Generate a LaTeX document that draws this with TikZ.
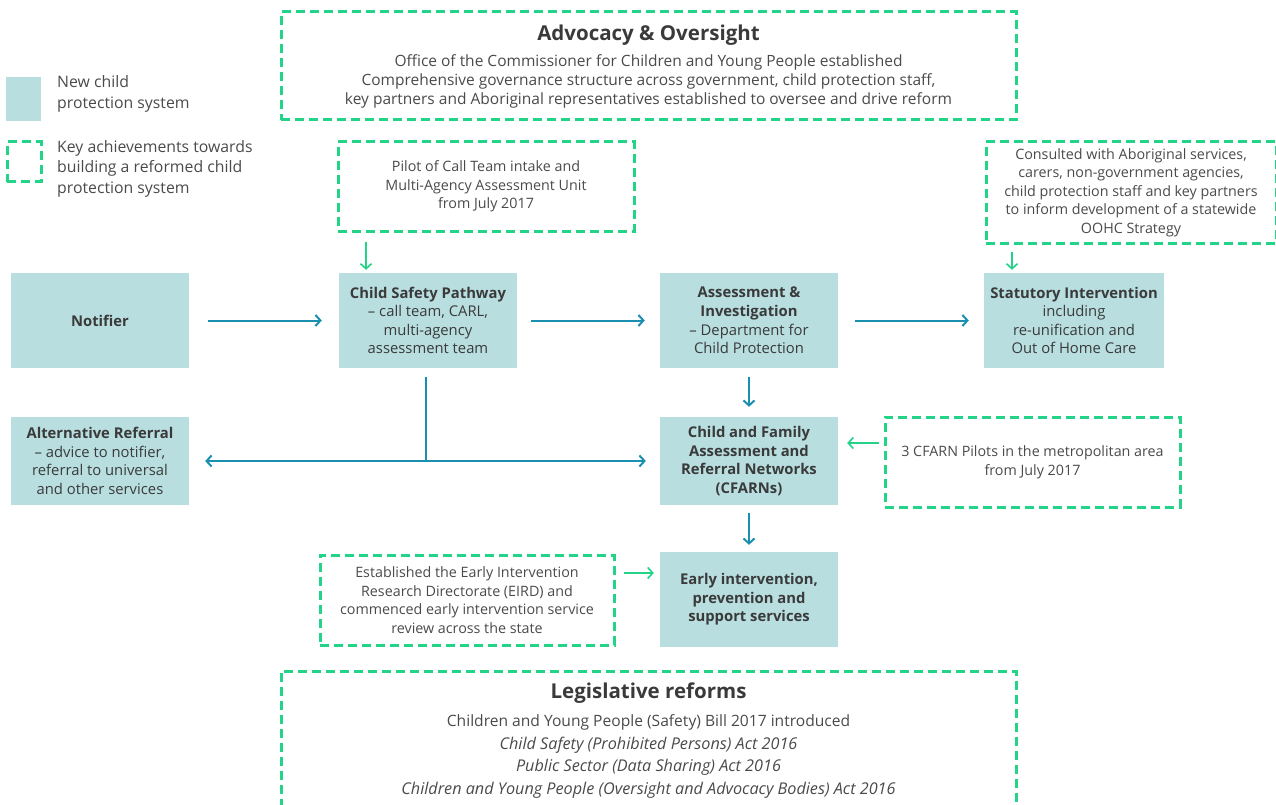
\documentclass[tikz,border=0pt]{standalone}
\usepackage{fontspec}
\setmainfont{Open Sans}
\usetikzlibrary{arrows.meta,calc}
\definecolor{sysfill}{HTML}{B8DEE0}
\definecolor{flowc}{HTML}{1A8FB0}
\definecolor{achg}{HTML}{22D388}
\definecolor{txt}{HTML}{3A3A3A}
\definecolor{txtl}{HTML}{4A4A4A}
\tikzset{
  sys/.style={rectangle, fill=sysfill, inner sep=0pt, minimum width=178pt, align=center, text=txt,
    font=\fontsize{14.8}{18.6}\selectfont},
  ach/.style={rectangle, draw=achg, line width=3pt, dash pattern=on 9pt off 5pt, inner sep=0pt,
    align=center, text=txtl, font=\fontsize{14.3}{18.6}\selectfont},
  achline/.style={draw=achg, line width=3pt, dash pattern=on 9pt off 5pt},
  flow/.style={draw=flowc, line width=2pt, -{Straight Barb[length=5pt,width=11pt,line width=2pt]}},
  flowline/.style={draw=flowc, line width=2pt},
  gflow/.style={draw=achg, line width=1.6pt, -{Straight Barb[length=5pt,width=11pt,line width=1.6pt]}},
  plain/.style={text=txt, align=center, inner sep=0pt},
}
\begin{document}
\begin{tikzpicture}[x=1pt,y=-1pt]
\useasboundingbox (0,0) rectangle (1276,805);

% legend
\node[rectangle, fill=sysfill, minimum width=35pt, minimum height=44pt, inner sep=0pt] (legsys) at (23.5,99) {};
\node[plain, anchor=west, align=left, text=txtl, font=\fontsize{15.8}{20.3}\selectfont] (legsyst) at (57,94) {New child\\protection system};
\node[ach, minimum width=34pt, minimum height=40pt] (legach) at (24,162) {};
\node[plain, anchor=west, align=left, text=txtl, font=\fontsize{15.8}{20.5}\selectfont] (legacht) at (57,168.5) {Key achievements towards\\building a reformed child\\protection system};

% top oversight box
\node[ach, minimum width=735pt, minimum height=108pt] (adv) at (648.5,66) {};
\node[plain, font=\bfseries\fontsize{20.5}{24}\selectfont] (advt) at (648.5,35) {Advocacy \& Oversight};
\node[plain, text=txtl, font=\fontsize{15.5}{19}\selectfont] (advb) at (648.5,81.5) {Office of the Commissioner for Children and Young People established\\Comprehensive governance structure across government, child protection staff,\\key partners and Aboriginal representatives established to oversee and drive reform};

% achievement boxes
\node[ach, minimum width=296pt, minimum height=89pt] (pilot) at (486,186.5) {Pilot of Call Team intake and\\Multi-Agency Assessment Unit\\from July 2017};
\node[ach, minimum width=290pt, minimum height=101pt] (consult) at (1131,192.5) {Consulted with Aboriginal services,\\carers, non-government agencies,\\child protection staff and key partners\\to inform development of a statewide\\OOHC Strategy};
\node[ach, minimum width=295pt, minimum height=90pt] (cfpilot) at (1032.5,462) {3 CFARN Pilots in the metropolitan area\\from July 2017};
\node[ach, minimum width=294pt, minimum height=90pt] (eird) at (467,600) {Established the Early Intervention\\Research Directorate (EIRD) and\\commenced early intervention service\\review across the state};

% system boxes
\node[sys, minimum height=95pt] (notifier) at (100,320.5) {\bfseries Notifier};
\node[sys, minimum height=95pt] (csp) at (428,320.5) {\bfseries Child Safety Pathway\\– call team, CARL,\\multi-agency\\assessment team};
\node[sys, minimum height=95pt] (ai) at (749,320.5) {\bfseries Assessment \&\\\bfseries Investigation\\– Department for\\Child Protection};
\node[sys, minimum height=95pt, minimum width=180pt] (si) at (1074,320.5) {\bfseries Statutory Intervention\\including\\re-unification and\\Out of Home Care};
\node[sys, minimum height=88pt] (alt) at (100,461) {\bfseries Alternative Referral\\– advice to notifier,\\referral to universal\\and other services};
\node[sys, minimum height=88pt] (cfarn) at (749,461) {\bfseries Child and Family\\\bfseries Assessment and\\\bfseries Referral Networks\\\bfseries (CFARNs)};
\node[sys, minimum height=95pt] (early) at (749,599.5) {\bfseries Early intervention,\\\bfseries prevention and\\\bfseries support services};

% legislative box (open at the bottom)
\coordinate (lbl) at (281,808);
\coordinate (lbr) at (1016,808);
\draw[achline] (lbl) -- (281,671) -- (1016,671) -- (lbr);
\node[plain, font=\bfseries\fontsize{20.5}{24}\selectfont] (legt) at (648.5,693) {Legislative reforms};
\node[plain, text=txtl, font=\fontsize{15.6}{22.7}\selectfont] (legb) at (648.5,756.5) {Children and Young People (Safety) Bill 2017 introduced\\\fontsize{16.2}{22.7}\selectfont\itshape Child Safety (Prohibited Persons) Act 2016\\\fontsize{16.2}{22.7}\selectfont\itshape Public Sector (Data Sharing) Act 2016\\\fontsize{16.2}{22.7}\selectfont\itshape Children and Young People (Oversight and Advocacy Bodies) Act 2016};

% flow connectors
\draw[flow, shorten <=19pt, shorten >=17pt] (notifier.east) -- (csp.west);
\draw[flow, shorten <=14pt, shorten >=15pt] (csp.east) -- (ai.west);
\draw[flow, shorten <=17pt, shorten >=15pt] (ai.east) -- (si.west);
\draw[flow, shorten <=9pt, shorten >=10pt] (ai.south) -- (cfarn.north);
\draw[flow, shorten <=8pt, shorten >=7pt] (cfarn.south) -- (early.north);
\coordinate (tee) at (426,461);
\coordinate (teetop) at (426,377);
\draw[flowline] (teetop) -- (tee);
\draw[flow, shorten >=16pt] (tee) -- (alt.east);
\draw[flow, shorten >=14pt] (tee) -- (cfarn.west);

% green connectors
\draw[gflow, shorten <=9pt, shorten >=3pt] (pilot.south -| 366,0) -- (csp.north -| 366,0);
\draw[gflow, shorten <=7pt, shorten >=3pt] (consult.south -| 1012,0) -- (si.north -| 1012,0);
\draw[gflow, shorten <=5pt, shorten >=9pt] (cfpilot.west |- 0,443) -- (cfarn.east |- 0,443);
\draw[gflow, shorten <=8pt, shorten >=6pt] (eird.east |- 0,573) -- (early.west |- 0,573);
\end{tikzpicture}
\end{document}
